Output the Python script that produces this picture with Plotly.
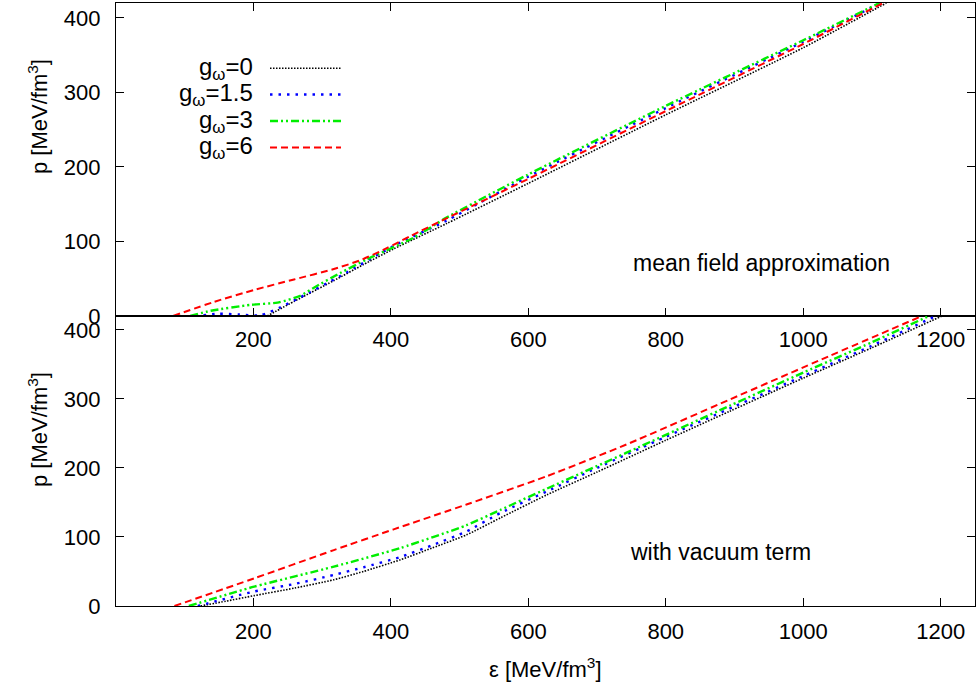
import plotly.graph_objects as go

# ---------------- data ----------------
# Top panel: mean field approximation
mf_eps_g0 = [220, 260, 316, 360, 404, 481, 600, 800, 1000, 1121]
mf_p_g0 = [0, 20, 47, 69, 90, 124, 178, 270, 360, 420]

mf_eps_g15 = [115, 150, 180, 210, 240, 268, 327, 404, 481, 600, 800, 1000, 1113]
mf_p_g15 = [0, 3, 2, 1, 12, 25, 54, 94, 128, 187, 279, 368, 420]

mf_eps_g3 = [108, 138, 196, 235, 268, 288, 327, 365, 433, 481, 600, 800, 1000, 1111]
mf_p_g3 = [0, 7, 15, 18, 27, 38, 58, 76, 105, 132, 190, 282, 370, 420]

mf_eps_g6 = [83, 143, 201, 259, 317, 356, 394, 430, 481, 600, 800, 1000, 1116]
mf_p_g6 = [0, 19, 35, 49, 63, 75, 91, 108, 131, 184, 275, 365, 420]

# Bottom panel: with vacuum term
vt_eps_g0 = [123, 160, 201, 260, 317, 360, 414, 460, 510, 560, 627, 700, 800, 893, 1000, 1100, 1202]
vt_p_g0 = [0, 7, 15, 26, 38, 50, 67, 84, 103, 128, 161, 194, 240, 282, 330, 374, 420]

vt_eps_g15 = [119, 201, 260, 317, 360, 414, 460, 510, 560, 627, 700, 800, 900, 1000, 1100, 1193]
vt_p_g15 = [0, 21, 32, 45, 56, 71, 88, 108, 135, 166, 200, 245, 289, 333, 377, 420]

vt_eps_g3 = [106, 201, 317, 414, 510, 559, 627, 743, 893, 1000, 1100, 1183]
vt_p_g3 = [0, 28, 57, 84, 117, 139, 170, 222, 290, 338, 382, 420]

vt_eps_g6 = [85, 201, 317, 404, 510, 627, 743, 893, 1038, 1173]
vt_p_g6 = [0, 40, 81, 111, 147, 188, 234, 299, 362, 420]

series_labels = ["g<sub>ω</sub>=0", "g<sub>ω</sub>=1.5", "g<sub>ω</sub>=3", "g<sub>ω</sub>=6"]
x_ticks = [200, 400, 600, 800, 1000, 1200]
y_ticks = [0, 100, 200, 300, 400]
panel_texts = ["mean field approximation", "with vacuum term"]

# ---------------- styles ----------------
FONT = "Liberation Sans, Arial, Helvetica, sans-serif"
styles = [
    dict(color="#000000", width=1.6, dash="1.5px,1.5px"),
    dict(color="#0000ff", width=2.4, dash="2.5px,6px"),
    dict(color="#00ee00", width=2.4, dash="8px,3px,2px,3px,2px,3px"),
    dict(color="#ff0000", width=2.0, dash="7px,4px"),
]

fig = go.Figure()

top_data = [(mf_eps_g0, mf_p_g0), (mf_eps_g15, mf_p_g15), (mf_eps_g3, mf_p_g3), (mf_eps_g6, mf_p_g6)]
bot_data = [(vt_eps_g0, vt_p_g0), (vt_eps_g15, vt_p_g15), (vt_eps_g3, vt_p_g3), (vt_eps_g6, vt_p_g6)]

for (xs, ys), st, lab in zip(top_data, styles, series_labels):
    fig.add_trace(go.Scatter(x=xs, y=ys, mode="lines", line=dict(shape="spline", smoothing=0.6, **st),
                             name=lab, xaxis="x", yaxis="y", showlegend=False, cliponaxis=True))
for (xs, ys), st, lab in zip(bot_data, styles, series_labels):
    fig.add_trace(go.Scatter(x=xs, y=ys, mode="lines", line=dict(shape="spline", smoothing=0.6, **st),
                             name=lab, xaxis="x2", yaxis="y2", showlegend=False, cliponaxis=True))

PLOT_H = 603.0
PLOT_W = 859.0
split = (606 - 316) / PLOT_H

axis_common = dict(showline=True, linecolor="black", linewidth=1.3, ticks="inside",
                   ticklen=8, tickwidth=1.2, tickcolor="black", showgrid=False, zeroline=False,
                   automargin=False,
                   tickfont=dict(family=FONT, size=22, color="black"))

fig.update_layout(
    width=976, height=693,
    margin=dict(l=116, r=1, t=3, b=87, autoexpand=False),
    paper_bgcolor="white", plot_bgcolor="white",
    showlegend=False,
    xaxis=dict(domain=[0, 1], anchor="y", range=[0, 1250], tickvals=x_ticks, mirror="ticks",
               ticklabelstandoff=3, **axis_common),
    yaxis=dict(domain=[split, 1], anchor="x", range=[0, 420], tickvals=y_ticks, mirror="ticks",
               ticklabelstandoff=10, **axis_common),
    xaxis2=dict(domain=[0, 1], anchor="y2", range=[0, 1250], tickvals=x_ticks, mirror=True,
                ticklabelstandoff=5, **axis_common),
    yaxis2=dict(domain=[0, split], anchor="x2", range=[0, 420], tickvals=y_ticks, mirror="ticks",
                ticklabelstandoff=10, **axis_common),
)

ann = []
# panel labels
ann.append(dict(x=940, y=71, xref="x", yref="y", text=panel_texts[0], showarrow=False,
                xanchor="center", yanchor="middle",
                font=dict(family=FONT, size=23, color="black")))
ann.append(dict(x=880, y=78, xref="x2", yref="y2", text=panel_texts[1], showarrow=False,
                xanchor="center", yanchor="middle",
                font=dict(family=FONT, size=23, color="black")))
# axis titles
ann.append(dict(x=(545 - 116) / PLOT_W, y=-(668 - 606) / PLOT_H, xref="paper", yref="paper",
                text="ε [MeV/fm<sup>3</sup>]", showarrow=False, xanchor="center", yanchor="middle",
                font=dict(family=FONT, size=22, color="black")))
for yc in [117, 430]:
    ann.append(dict(x=(38 - 116) / PLOT_W, y=(606 - yc) / PLOT_H, xref="paper", yref="paper",
                    text="p [MeV/fm<sup>3</sup>]", showarrow=False, textangle=-90,
                    xanchor="center", yanchor="middle",
                    font=dict(family=FONT, size=22, color="black")))

# manual gnuplot-style key: text on the left, sample on the right
shapes = []
rows_py = [68.3, 94.5, 121, 147.5]
for lab, st, py in zip(series_labels, styles, rows_py):
    yp = (606 - py) / PLOT_H
    ann.append(dict(x=(255 - 116) / PLOT_W, y=yp, xref="paper", yref="paper", text=lab,
                    showarrow=False, xanchor="right", yanchor="middle",
                    font=dict(family=FONT, size=24, color="black")))
    shapes.append(dict(type="line", xref="paper", yref="paper",
                       x0=(270 - 116) / PLOT_W, x1=(341 - 116) / PLOT_W, y0=yp, y1=yp,
                       line=dict(color=st["color"], width=st["width"], dash=st["dash"])))

fig.update_layout(annotations=ann, shapes=shapes)
fig.write_html("out.html", config={"displayModeBar": False},
               post_script="document.body.style.margin='0px';")
